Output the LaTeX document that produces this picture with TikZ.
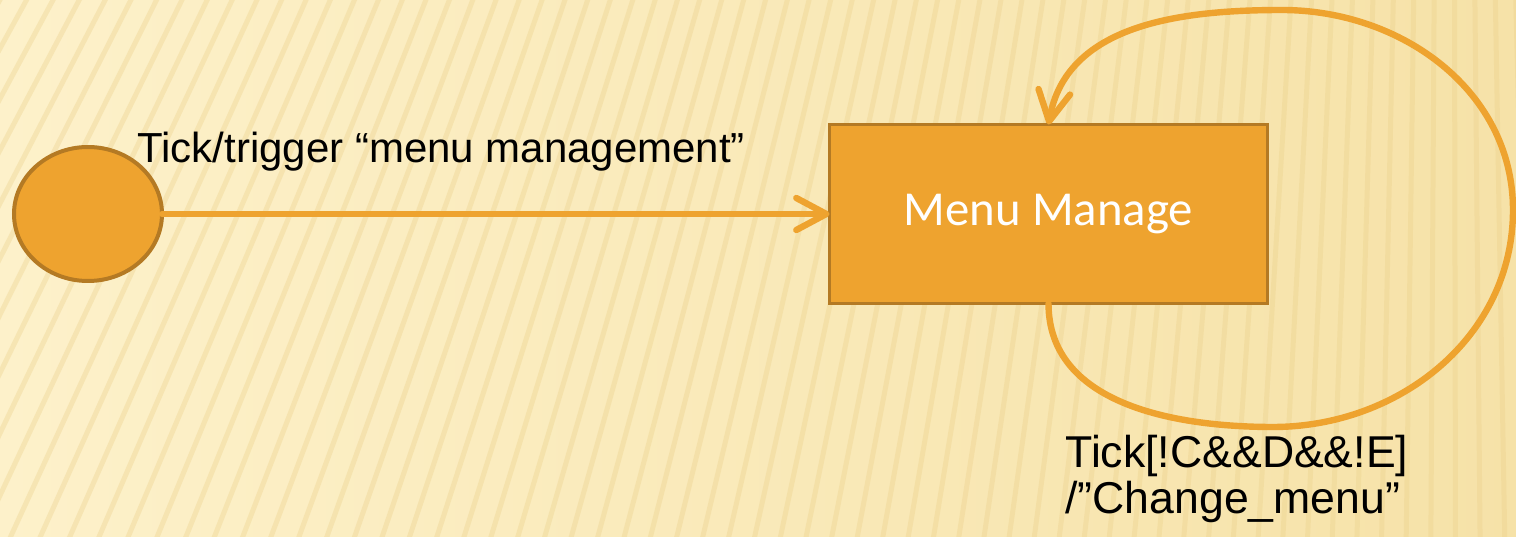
\documentclass[tikz,border=0pt]{standalone}
\usepackage{fontspec}
\setmainfont{Liberation Sans}
\newfontfamily\boxfont{Carlito}
\usepackage{tikz}
\usetikzlibrary{shapes.geometric,arrows.meta}
\definecolor{paper}{HTML}{FDF1CA}
\definecolor{paperdark}{HTML}{F6E2A8}
\definecolor{stripe}{HTML}{EBD08A}
\definecolor{fillor}{HTML}{EEA32F}
\definecolor{rim}{HTML}{B47A24}
\tikzset{
  state/.style={ellipse, draw=rim, fill=fillor, line width=2pt, minimum width=74pt, minimum height=67pt, inner sep=0pt, outer sep=0pt},
  box/.style={rectangle, draw=rim, fill=fillor, line width=1.6pt, minimum width=219pt, minimum height=89.5pt, outer sep=0pt, text=white, font=\boxfont\fontsize{24.4}{28}\selectfont},
  flow/.style={draw=fillor, line width=3.2pt, line cap=round, line join=round, -{Straight Barb[length=15pt,width=16pt,round]}},
  lab/.style={text=black, font=\fontsize{21}{23}\selectfont, inner sep=0pt},
}

\begin{document}
\begin{tikzpicture}[x=0.5pt,y=0.5pt]
  \useasboundingbox (0,0) rectangle (1516,536);
  % background
  \shade[left color=paper, right color=paperdark] (0,0) rectangle (1516,536);
  \begin{scope}
    \clip (0,0) rectangle (1516,536);
    \coordinate (P) at (1450,3136);
    \foreach \a in {239.5,239.95,...,272.5}
      \draw[stripe, line width=2.5pt, opacity=0.35] (P) -- ++(\a:3800);
  \end{scope}

  % states
  \node[state] (start) at (88,322) {};
  \node[box] (manage) at (1048.5,322) {Menu Manage};

  % loop points
  \coordinate (loopS) at (1273,109);
  \coordinate (loopE) at (1513,326);
  \coordinate (loopN) at (1282,526);

  % transitions
  \draw[flow] (start.east) -- (manage.west);
  \draw[flow] (manage.south) to[out=-90,in=180] (loopS)
    to[out=0,in=-90] (loopE) to[out=90,in=0] (loopN)
    to[out=180,in=80] (manage.north);

  % labels
  \node[lab, anchor=base west] (trig) at (137,373) {Tick/trigger “menu management”};
  \node[lab, font=\fontsize{22.3}{23}\selectfont, anchor=base west, align=left] (guard) at (1065,23) {Tick[!C\&\&D\&\&!E]\\/”Change\_menu”};
\end{tikzpicture}
\end{document}
